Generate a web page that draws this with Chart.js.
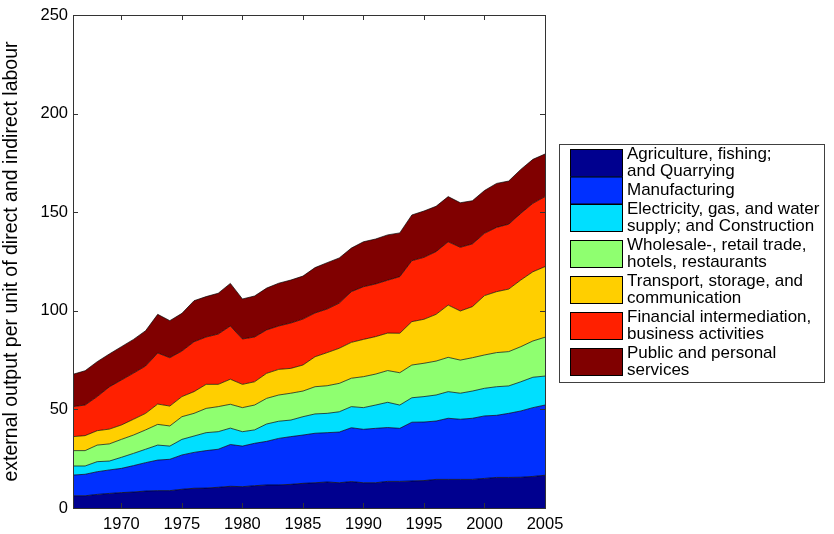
<!DOCTYPE html>
<html>
<head>
<meta charset="utf-8">
<script src="https://cdn.jsdelivr.net/npm/chart.js@4"></script>
<style>
    html, body { margin: 0; padding: 0; background: #ffffff; }
</style>
</head>
<body>
<canvas id="chart" width="834" height="534"></canvas>
<script>
const years = [1966, 1967, 1968, 1969, 1970, 1971, 1972, 1973, 1974, 1975,
               1976, 1977, 1978, 1979, 1980, 1981, 1982, 1983, 1984, 1985,
               1986, 1987, 1988, 1989, 1990, 1991, 1992, 1993, 1994, 1995,
               1996, 1997, 1998, 1999, 2000, 2001, 2002, 2003, 2004, 2005];
const yTicks = [0, 50, 100, 150, 200, 250];

const agriculture = [6.2, 6.2, 6.9, 7.4, 7.8, 8.1, 8.6, 8.8, 8.8, 9.5,
                     10.0, 10.1, 10.5, 11.0, 10.8, 11.3, 11.7, 11.7, 12.0, 12.5,
                     12.8, 13.2, 12.8, 13.4, 12.8, 12.8, 13.5, 13.5, 13.7, 13.9,
                     14.5, 14.5, 14.5, 14.5, 15.0, 15.5, 15.5, 15.6, 16.0, 16.6];
const manufacturing = [10.5, 10.9, 11.5, 11.9, 12.3, 13.4, 14.4, 15.5, 15.9, 17.4,
                       18.2, 19.0, 19.3, 21.2, 20.6, 21.5, 22.1, 23.6, 24.2, 24.5,
                       25.1, 25.0, 25.7, 27.3, 27.1, 27.6, 27.3, 26.9, 29.8, 29.7,
                       29.6, 31.0, 30.5, 31.0, 31.7, 31.5, 32.5, 33.6, 34.9, 35.6];
const electricity = [4.6, 4.2, 5.1, 4.5, 5.6, 6.2, 6.8, 7.6, 6.7, 7.9,
                     8.3, 9.1, 8.9, 8.3, 7.3, 6.8, 8.8, 8.7, 8.4, 9.3,
                     9.8, 9.8, 10.3, 10.7, 11.0, 11.8, 12.8, 11.8, 12.4, 12.9,
                     13.2, 13.5, 13.2, 13.8, 14.0, 14.5, 13.9, 14.8, 15.4, 14.7];
const wholesale = [7.8, 7.8, 8.4, 8.7, 9.1, 9.3, 9.8, 10.5, 10.2, 11.5,
                   11.5, 12.3, 12.7, 12.1, 12.2, 12.6, 13.0, 13.3, 13.6, 13.0,
                   13.8, 14.0, 14.4, 14.4, 15.7, 15.7, 16.1, 16.4, 16.6, 16.9,
                   17.2, 17.4, 16.8, 16.9, 16.9, 17.3, 17.4, 17.8, 18.4, 19.7];
const transport = [7.1, 7.6, 7.3, 7.5, 7.3, 8.0, 8.4, 10.3, 10.1, 10.2,
                   11.0, 12.2, 11.3, 12.7, 11.8, 11.8, 12.7, 13.0, 12.6, 13.2,
                   15.2, 16.8, 17.8, 18.2, 18.9, 19.0, 19.0, 20.0, 22.0, 22.3,
                   23.7, 26.5, 24.9, 25.9, 30.1, 30.9, 31.7, 33.8, 35.1, 35.8];
const financial = [15.2, 15.5, 17.3, 21.4, 22.8, 23.4, 24.0, 25.9, 24.5, 23.1,
                   25.3, 24.0, 25.5, 27.0, 23.0, 22.7, 22.0, 22.0, 23.0, 23.3,
                   22.2, 22.1, 22.9, 25.7, 26.7, 26.7, 26.8, 28.7, 30.9, 31.4,
                   31.8, 32.1, 32.3, 31.8, 31.6, 32.6, 32.9, 33.8, 34.7, 35.5];
const publicServices = [16.4, 17.4, 17.7, 16.7, 16.9, 17.1, 17.9, 19.6, 18.8, 19.1,
                        20.8, 20.5, 20.7, 21.6, 20.3, 20.8, 21.2, 21.7, 21.8, 21.8,
                        23.0, 23.5, 22.9, 22.1, 22.8, 22.8, 23.0, 22.2, 23.2, 23.5,
                        23.0, 22.9, 22.6, 21.9, 21.7, 22.3, 21.9, 22.3, 22.3, 21.6];

const sectorNames = [
    ['Agriculture, fishing;', 'and Quarrying'],
    ['Manufacturing'],
    ['Electricity, gas, and water', 'supply; and Construction'],
    ['Wholesale-, retail trade,', 'hotels, restaurants'],
    ['Transport, storage, and', 'communication'],
    ['Financial intermediation,', 'business activities'],
    ['Public and personal', 'services']
];
const sectorValues = [agriculture, manufacturing, electricity, wholesale, transport, financial, publicServices];
const sectorColors = ['#00008f', '#0030ff', '#00dfff', '#8fff70', '#ffcf00', '#ff2000', '#800000'];

const FONT = '"Liberation Sans", Arial, sans-serif';
Chart.defaults.font.family = FONT;
Chart.defaults.color = '#000';

// matlab style box with inward ticks on all four sides
const axesBox = {
    id: 'axesBox',
    afterDraw(chart) {
        const { ctx, chartArea: a, scales } = chart;
        ctx.save();
        ctx.strokeStyle = '#333';
        ctx.lineWidth = 1;
        ctx.strokeRect(a.left + 0.5, a.top + 0.5, a.right - a.left, a.bottom - a.top);
        ctx.beginPath();
        scales.y.ticks.forEach(t => {
            const py = Math.round(scales.y.getPixelForValue(t.value)) + 0.5;
            ctx.moveTo(a.left, py); ctx.lineTo(a.left + 5, py);
            ctx.moveTo(a.right, py); ctx.lineTo(a.right - 5, py);
        });
        years.forEach((yr, i) => {
            if (yr % 5 !== 0) return;
            const px = Math.round(scales.x.getPixelForValue(i)) + 0.5;
            ctx.moveTo(px, a.bottom); ctx.lineTo(px, a.bottom - 5);
            ctx.moveTo(px, a.top); ctx.lineTo(px, a.top + 5);
        });
        ctx.stroke();
        ctx.restore();
    }
};

const sideLegend = {
    id: 'sideLegend',
    afterDraw(chart) {
        const ctx = chart.ctx;
        ctx.save();
        ctx.fillStyle = '#fff';
        ctx.fillRect(559, 144, 265, 238);
        ctx.strokeStyle = '#404040';
        ctx.lineWidth = 1;
        ctx.strokeRect(559.5, 144.5, 265, 238);
        ctx.font = '17px ' + FONT;
        ctx.textBaseline = 'middle';
        let y = 149;
        chart.data.datasets.forEach((ds, i) => {
            ctx.fillStyle = ds.backgroundColor;
            ctx.fillRect(570, y, 53, 27.5);
            ctx.strokeStyle = '#000';
            ctx.strokeRect(570.5, y + 0.5, 52, 27);
            const lines = sectorNames[i];
            const cy = y + 14;
            ctx.fillStyle = '#000';
            lines.forEach((t, j) => ctx.fillText(t, 627, cy + (j - (lines.length - 1) / 2) * 17));
            y += i < 2 ? 27.5 : 36;
        });
        ctx.restore();
    }
};

new Chart(document.getElementById('chart'), {
    type: 'line',
    data: {
        labels: years,
        datasets: sectorValues.map((vals, i) => ({
            label: sectorNames[i].join(' '),
            data: vals,
            backgroundColor: sectorColors[i],
            borderColor: 'rgba(0,0,0,0.85)',
            borderWidth: 0.8,
            pointRadius: 0,
            tension: 0,
            fill: i === 0 ? 'origin' : '-1'
        }))
    },
    options: {
        responsive: false,
        animation: false,
        layout: { padding: { left: 0, top: 15, right: 289, bottom: 0 } },
        plugins: {
            legend: { display: false },
            tooltip: { enabled: false }
        },
        scales: {
            x: {
                type: 'category',
                offset: false,
                afterFit: s => { s.height = 26; },
                grid: { display: false, drawTicks: false },
                border: { display: false },
                ticks: {
                    autoSkip: false,
                    maxRotation: 0,
                    padding: 7,
                    color: '#000',
                    font: { size: 16.5 },
                    callback: (v, i) => (years[i] % 5 === 0 ? String(years[i]) : '')
                }
            },
            y: {
                stacked: true,
                min: 0,
                max: 250,
                afterBuildTicks: s => { s.ticks = yTicks.map(v => ({ value: v })); },
                afterFit: s => { s.width = 73; },
                grid: { display: false, drawTicks: false },
                border: { display: false },
                ticks: { padding: 5, color: '#000', font: { size: 16.5 } },
                title: {
                    display: true,
                    text: 'external output per unit of direct and indirect labour',
                    color: '#000',
                    font: { size: 19.5 },
                    padding: { top: 0, bottom: 0 }
                }
            }
        }
    },
    plugins: [axesBox, sideLegend]
});
</script>
</body>
</html>
